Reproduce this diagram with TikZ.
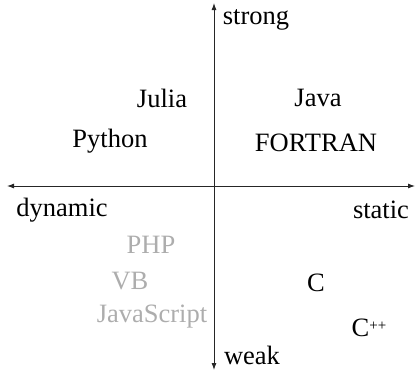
\documentclass[tikz,border=0pt]{standalone}
\usepackage{fontspec}
\setmainfont{Liberation Serif}
\usetikzlibrary{arrows.meta}
\definecolor{faded}{gray}{0.68}
\begin{document}
\begin{tikzpicture}[x=1pt,y=-1pt,
  axis/.style={line width=0.9pt,draw=black!85,{Latex[length=7pt,width=5pt]}-{Latex[length=7pt,width=5pt]}},
  lang/.style={font=\fontsize{26.5}{30}\selectfont,inner sep=0pt},
  weaklang/.style={lang,text=faded}]
\useasboundingbox (0,0) rectangle (417,372);
% axis ends
\coordinate (top) at (214,3);
\coordinate (bottom) at (214,370);
\coordinate (left) at (7,186);
\coordinate (right) at (415,186);
\draw[axis] (bottom) -- (top);
\draw[axis] (left) -- (right);
% axis labels
\node[lang] (strong) at (256,20) {strong};
\node[lang] (weak) at (252,355) {weak};
\node[lang] (dynamic) at (62,210) {dynamic};
\node[lang] (static) at (381,210) {static};
% languages
\node[lang] (julia) at (162,98) {Julia};
\node[lang] (java) at (318,98) {Java};
\node[lang] (python) at (110,141) {Python};
\node[lang] (fortran) at (316,143) {FORTRAN};
\node[weaklang] (php) at (151,245) {PHP};
\node[weaklang] (vb) at (130,281) {VB};
\node[weaklang] (js) at (152,317) {JavaScript};
\node[lang] (c) at (316,283) {C};
\node[lang] (cpp) at (369,328) {C\raisebox{0.25em}{\fontsize{15}{16}\selectfont ++}};
\end{tikzpicture}
\end{document}
